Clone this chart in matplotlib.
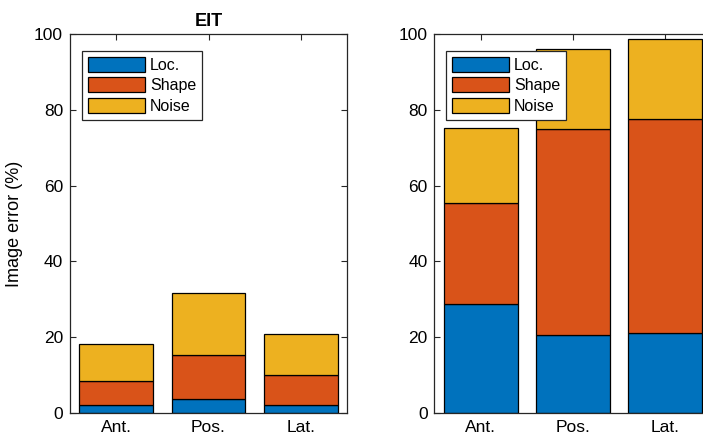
import numpy as np
import matplotlib.pyplot as plt

plt.rcParams['font.family'] = ['Liberation Sans', 'DejaVu Sans']

positions = ["Ant.", "Pos.", "Lat."]
series = ["Loc.", "Shape", "Noise"]

# EIT panel (left)
eit_loc = [2.0, 3.6, 2.0]
eit_shape = [6.4, 11.7, 8.1]
eit_noise = [9.7, 16.3, 10.7]

# second panel (right, cut off in the original)
other_loc = [28.7, 20.6, 21.0]
other_shape = [26.7, 54.5, 56.6]
other_noise = [19.9, 20.9, 21.2]

colors = ["#0072BD", "#D95319", "#EDB120"]
dark = "#262626"

fig = plt.figure(figsize=(7.03, 4.42), dpi=100)
ax1 = fig.add_axes([0.0996, 0.0656, 0.394, 0.857])
ax2 = fig.add_axes([0.618, 0.0656, 0.394, 0.857])


def stacked(ax, loc, shape, noise):
    x = np.arange(1, len(positions) + 1)
    bottom = np.zeros(len(x))
    for vals, col, name in zip([loc, shape, noise], colors, series):
        ax.bar(x, vals, width=0.8, bottom=bottom, color=col,
               edgecolor="black", linewidth=0.9, label=name, zorder=2)
        bottom = bottom + np.array(vals)
    ax.set_xlim(0.5, 3.5)
    ax.set_ylim(0, 100)
    ax.set_xticks(x)
    ax.set_xticklabels(positions)
    ax.set_yticks([0, 20, 40, 60, 80, 100])
    ax.tick_params(direction="in", top=True, right=True, length=4,
                   labelsize=12.5, colors=dark, labelcolor="black", pad=5)
    for s in ax.spines.values():
        s.set_color(dark)
        s.set_linewidth(0.9)
    leg = ax.legend(loc="upper left", bbox_to_anchor=(0.043, 0.955),
                    fontsize=11.5, handlelength=3.6, handleheight=1.05,
                    handletextpad=0.3, labelspacing=0.3, borderpad=0.35,
                    borderaxespad=0, fancybox=False, framealpha=1)
    leg.get_frame().set_edgecolor(dark)
    leg.get_frame().set_linewidth(0.9)


stacked(ax1, eit_loc, eit_shape, eit_noise)
stacked(ax2, other_loc, other_shape, other_noise)

ax1.set_title("EIT", fontsize=13, fontweight="bold", pad=6)
ax1.set_ylabel("Image error (%)", fontsize=13, labelpad=8)

fig.savefig("out.png", dpi=100)
